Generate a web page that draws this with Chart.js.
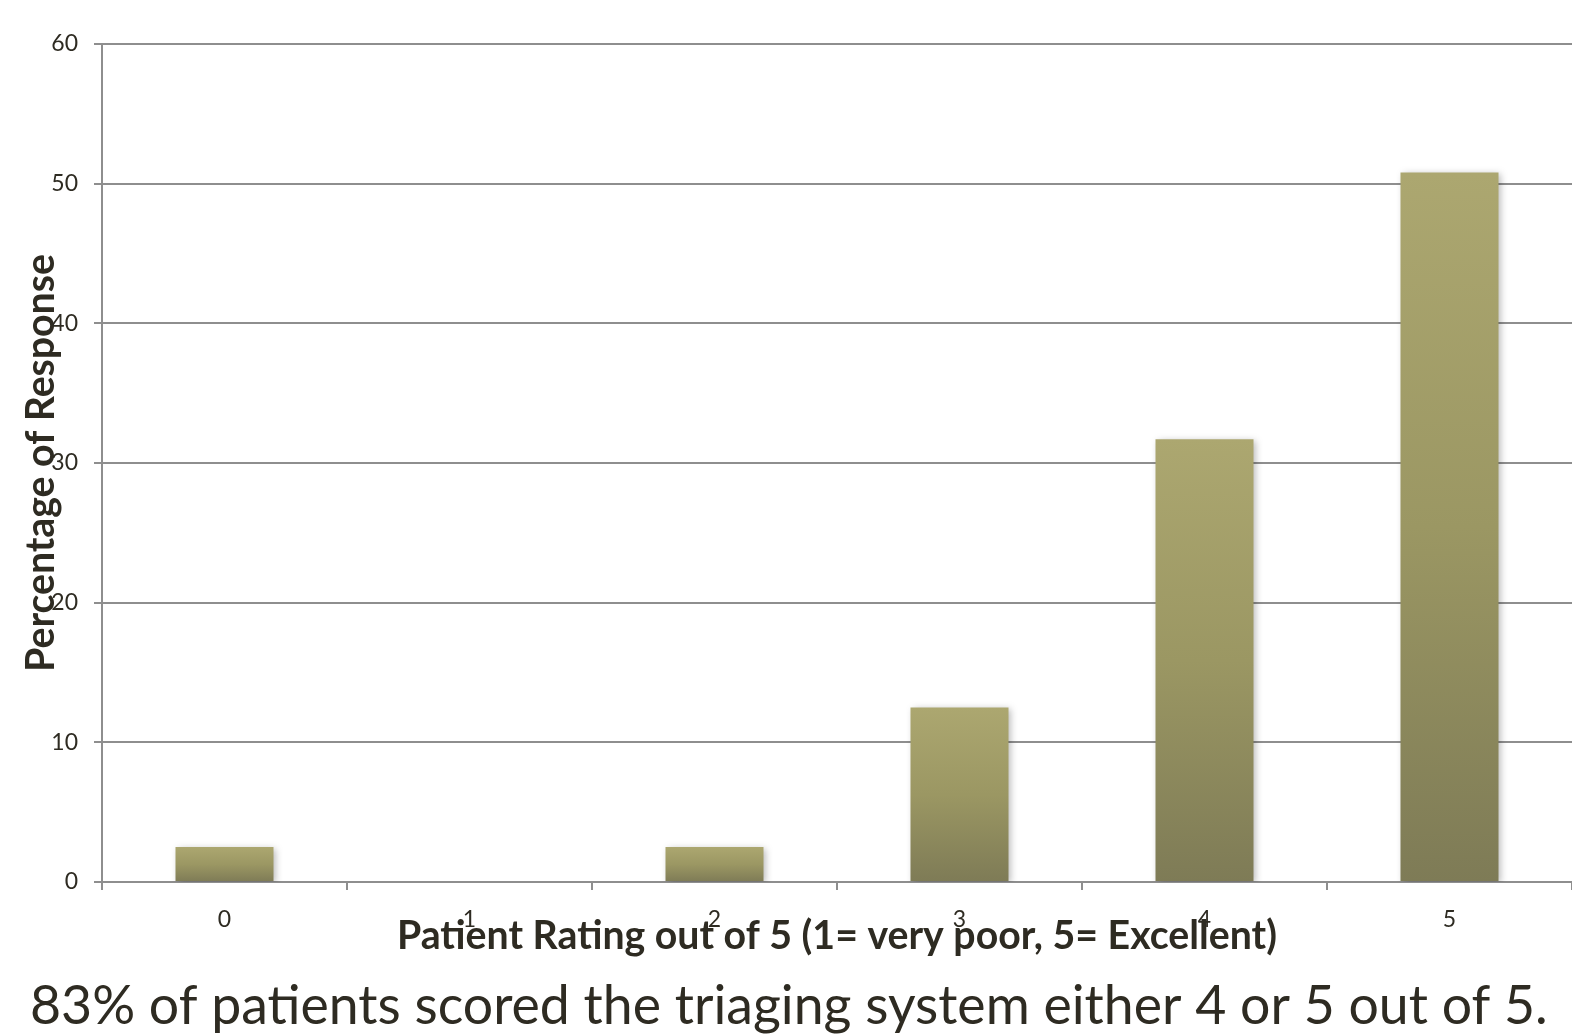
<!DOCTYPE html>
<html>
<head>
<meta charset="utf-8">
<script src="https://cdn.jsdelivr.net/npm/chart.js@4/dist/chart.umd.min.js"></script>
<style>
  html, body { margin: 0; padding: 0; background: #ffffff; }
  #wrap { position: relative; width: 1572px; height: 1034px; overflow: hidden; }
  canvas { display: block; }
</style>
</head>
<body>
<div id="wrap"><canvas id="c" width="1572" height="1034"></canvas></div>
<script>
// Patient satisfaction with the triaging system
const ratings = ['0', '1', '2', '3', '4', '5'];
const responsePct = [2.5, 0, 2.5, 12.5, 31.7, 50.8];
const yTicks = [0, 10, 20, 30, 40, 50, 60];
const xTitle = 'Patient Rating out of 5 (1= very poor, 5= Excellent)';
const yTitle = 'Percentage of Response';
const caption = '83% of patients scored the triaging system either 4 or 5 out of 5.';

const FONT = 'Lato';
const TEXT = '#2e2b22';
const GRID = '#8e8e8e';

// Vertical gradient spanning each bar from its top down to the baseline
function barGradient(ctx) {
  const chart = ctx.chart;
  const ys = chart.scales && chart.scales.y;
  if (!ys || ctx.parsed === undefined || ctx.parsed === null) return '#9a965f';
  const top = ys.getPixelForValue(ctx.parsed.y);
  const base = ys.getPixelForValue(0);
  if (!isFinite(top) || !isFinite(base) || base - top < 1) return '#9a965f';
  const g = chart.ctx.createLinearGradient(0, top, 0, base);
  g.addColorStop(0, '#aca770');
  g.addColorStop(0.5, '#9b9763');
  g.addColorStop(1, '#7e7b56');
  return g;
}

// Fit a line of text to a given width by adjusting the font size
function fitFont(ctx, text, weight, width, base) {
  ctx.font = weight + ' ' + base + 'px ' + FONT;
  const w = ctx.measureText(text).width;
  return base * width / w;
}

const decor = {
  id: 'decor',
  beforeDatasetsDraw(chart) {
    const ctx = chart.ctx;
    ctx.save();
    ctx.shadowColor = 'rgba(0,0,0,0.28)';
    ctx.shadowBlur = 7;
    ctx.shadowOffsetX = 2;
    ctx.shadowOffsetY = 2;
  },
  afterDatasetsDraw(chart) {
    chart.ctx.restore();
  },
  afterDraw(chart) {
    const ctx = chart.ctx;
    ctx.save();
    ctx.fillStyle = TEXT;
    ctx.textAlign = 'center';
    ctx.textBaseline = 'middle';

    // x axis title
    let fs = fitFont(ctx, xTitle, 'bold', 880, 34);
    ctx.font = 'bold ' + fs + 'px ' + FONT;
    ctx.fillText(xTitle, 837, 936);

    // y axis title
    fs = fitFont(ctx, yTitle, 'bold', 418, 30);
    ctx.font = 'bold ' + fs + 'px ' + FONT;
    ctx.save();
    ctx.translate(41, 463);
    ctx.rotate(-Math.PI / 2);
    ctx.fillText(yTitle, 0, 0);
    ctx.restore();

    // caption beneath the chart
    fs = fitFont(ctx, caption, 'normal', 1518, 48);
    ctx.font = 'normal ' + fs + 'px ' + FONT;
    ctx.textAlign = 'left';
    ctx.textBaseline = 'alphabetic';
    ctx.fillText(caption, 30, 1024);
    ctx.restore();
  }
};

new Chart(document.getElementById('c'), {
  type: 'bar',
  data: {
    labels: ratings,
    datasets: [{
      data: responsePct,
      backgroundColor: barGradient,
      borderWidth: 0,
      barPercentage: 0.8,
      categoryPercentage: 0.5
    }]
  },
  options: {
    responsive: false,
    animation: false,
    layout: { padding: { left: 0, right: 0, top: 44, bottom: 0 } },
    plugins: { legend: { display: false }, tooltip: { enabled: false } },
    scales: {
      x: {
        grid: {
          offset: true,
          drawOnChartArea: false,
          color: GRID,
          lineWidth: 2,
          tickLength: 8
        },
        border: { color: GRID, width: 2 },
        ticks: {
          color: TEXT,
          font: { family: FONT, size: 23 },
          padding: 16,
          maxRotation: 0,
          autoSkip: false
        },
        afterFit(scale) { scale.height = 152; }
      },
      y: {
        min: 0,
        max: 60,
        afterBuildTicks(scale) { scale.ticks = yTicks.map(v => ({ value: v })); },
        grid: {
          color: GRID,
          lineWidth: 2,
          tickLength: 8
        },
        border: { color: GRID, width: 2 },
        ticks: {
          color: TEXT,
          font: { family: FONT, size: 23 },
          padding: 16
        },
        afterFit(scale) { scale.width = 102; }
      }
    }
  },
  plugins: [decor]
});
</script>
</body>
</html>
